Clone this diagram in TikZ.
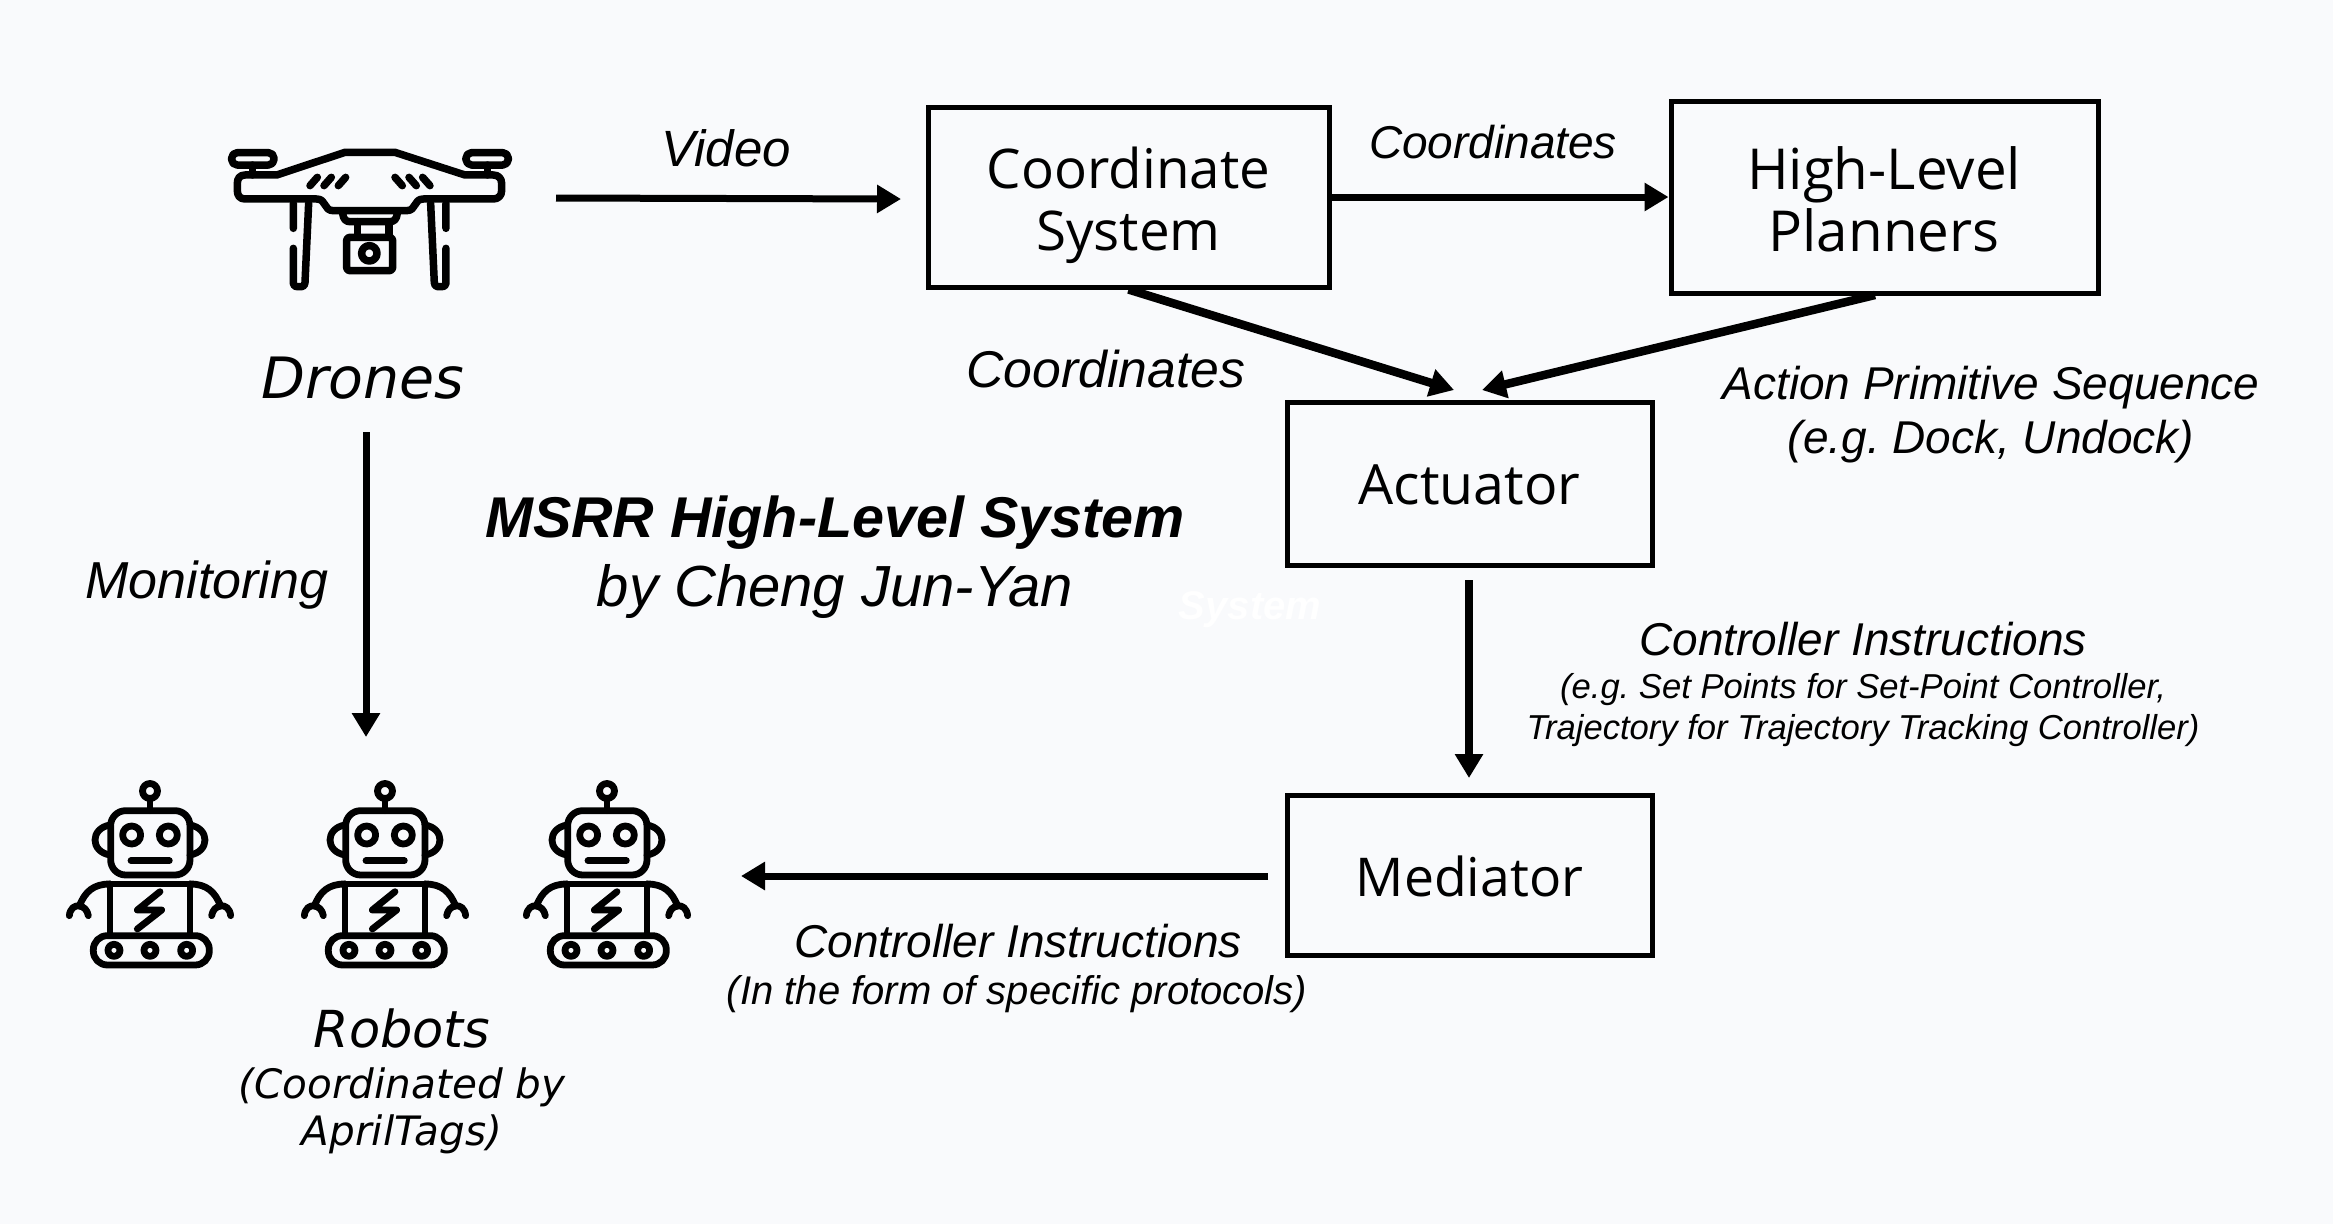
\documentclass[tikz,border=0pt]{standalone}
\usepackage{fontspec}
\setmainfont{Liberation Sans}
\newfontfamily\boxfont{Open Sans}
\newfontfamily\iconfont{DejaVu Sans}
\usetikzlibrary{arrows.meta}
\definecolor{bgc}{HTML}{F9FAFC}
\newcommand{\fs}[1]{\fontsize{#1}{#1}\selectfont}
\tikzset{
 stage/.style={draw=black,line width=5pt,minimum width=#1,inner sep=0pt,align=center,text=black},
 stagetext/.style={inner sep=0pt,align=center,font=\boxfont\fs{#1}},
 flow/.style={line width=7pt,-{Triangle[length=24pt,width=27pt]}},
 heavy/.style={line width=8.5pt},
 lab/.style={align=center,inner sep=0pt,font=\frenchspacing\itshape\fs{#1}},
 icon/.style={line width=7.5pt,line cap=round,line join=round},
 roboticon/.style={line width=6.8pt,line cap=round,line join=round},
}
\begin{document}
\begin{tikzpicture}[x=1pt,y=-1pt]
\path[use as bounding box,fill=bgc] (0,0) rectangle (2333,1224);
% boxes
\node[stage=401pt,minimum height=180pt] (cs) at (1128.5,197) {};
\node[stagetext=54.7] (cstxt) at (1128.5,205.5) {Coordinate\\[7pt]System};
\node[stage=427pt,minimum height=192pt] (hl) at (1884.5,197) {};
\node[stagetext=56.5] (hltxt) at (1884,199.5) {High-Level\\[5.5pt]Planners};
\node[stage=365pt,minimum height=163pt] (act) at (1469.5,483.5) {};
\node[stagetext=55.5] (acttxt) at (1469.5,485) {Actuator};
\node[stage=365pt,minimum height=160pt] (med) at (1469.5,875) {};
\node[stagetext=53.5] (medtxt) at (1469.5,876) {Mediator};
% free ends
\coordinate (vs) at (556,198);
\coordinate (ve) at (901,199);
\coordinate (hs) at (1875,295);
\coordinate (a1) at (1454,390);
\coordinate (a2) at (1482,390);
\coordinate (as) at (1469,580);
\coordinate (ae) at (1469,778);
\coordinate (ms) at (1268,876);
\coordinate (me) at (741,876);
\coordinate (ds) at (366,432);
\coordinate (de) at (366,737);
% connectors
\draw[flow] (vs) -- (ve);
\draw[flow] (cs.east) -- (hl.west);
\draw[flow,heavy] (cs.south) -- (a1);
\draw[flow,heavy] (hs) -- (a2);
\draw[flow,heavy] (as) -- (ae);
\draw[flow] (ms) -- (me);
\draw[flow] (ds) -- (de);
% labels
\node[lab=51] (l1) at (726,148) {Video};
\node[lab=46] (l2) at (1493,142) {Coordinates};
\node[lab=51.7] (l3) at (1106,369) {Coordinates};
\node[lab=46] (l4) at (1991,414.5) {Action Primitive Sequence\\[8pt](e.g. Dock, Undock)};
\node[lab=46] (l5) at (1863,639) {Controller Instructions};
\node[lab=34.6] (l6) at (1863,710) {(e.g. Set Points for Set-Point Controller,\\[7pt]Trajectory for Trajectory Tracking Controller)};
\node[lab=46] (l7) at (1018,941) {Controller Instructions};
\node[lab=40] (l8) at (1017,994.5) {(In the form of specific protocols)};
\node[lab=52] (l9) at (207,585) {Monitoring};
\node[inner sep=0,align=center,font=\bfseries\itshape\fs{57.5}] (t1) at (835,522.5) {MSRR High-Level System};
\node[lab=58] (t2) at (835,591.5) {by Cheng Jun-Yan};
\node[inner sep=0,font=\bfseries\itshape\fs{40},text=white] (t3) at (1250,609.5) {System};
\node[inner sep=0,font=\iconfont\itshape\fs{57}] (dl) at (363,378) {Drones};
\node[inner sep=0,font=\iconfont\itshape\fs{51}] (rl) at (402,1028) {Robots};
\node[inner sep=0,align=center,font=\iconfont\itshape\fs{40.5}] (rs) at (402,1111) {(Coordinated by\\[7pt]AprilTags)};
% drone
\begin{scope}[shift={(200,120)},x=0.3333pt,y=-0.3333pt,icon]
\draw[rounded corners=5.5pt] (95,98) rectangle (222,135);
\draw[rounded corners=5.5pt] (798,98) rectangle (925,135);
\draw (157,135)--(157,165) (862,135)--(862,165);
\draw (135,165)--(230,165)--(435,97)--(585,97)--(795,165)--(880,165)
  .. controls (895,165) and (905,175) .. (905,190)--(905,212)
  .. controls (905,227) and (895,237) .. (880,237)--(670,237)
  .. controls (640,237) and (650,272) .. (620,272)--(400,272)
  .. controls (370,272) and (380,237) .. (350,237)--(135,237)
  .. controls (120,237) and (112,227) .. (112,212)--(112,190)
  .. controls (112,175) and (120,165) .. (135,165)--cycle;
\foreach \a in {330,372,415} \draw (\a,197)--(\a+22,172);
\foreach \a in {585,627,668} \draw (\a,172)--(\a+22,197);
\draw (428,280) .. controls (430,298) and (438,305) .. (450,305)--(570,305) .. controls (582,305) and (590,298) .. (592,280);
\draw (472,305)--(472,345) (567,305)--(567,345);
\draw[rounded corners=3pt] (440,352) rectangle (578,452);
\draw (508,400) circle[radius=7.7pt];
\draw (280,250)--(280,325) (280,385)--(280,490) .. controls (280,497) and (285,500) .. (295,500)--(305,500) .. controls (312,500) and (314,495) .. (315,488)--(326,250);
\draw (738,250)--(738,325) (738,385)--(738,490) .. controls (738,497) and (733,500) .. (723,500)--(713,500) .. controls (706,500) and (704,495) .. (703,488)--(692,250);
\end{scope}
% robots
\foreach \dx in {0,235,457}{
\begin{scope}[shift={(50+\dx,770)},x=0.3333pt,y=-0.3333pt,roboticon]
\draw (300,63) circle[radius=7.5pt];
\draw (300,85)--(300,122);
\draw[rounded corners=15pt] (182,122) rectangle (420,315);
\draw (180,165) .. controls (150,170) and (135,190) .. (135,210) .. controls (135,230) and (150,250) .. (180,255);
\draw (420,165) .. controls (450,170) and (465,190) .. (465,210) .. controls (465,230) and (450,250) .. (420,255);
\draw (245,195) circle[radius=9pt] (355,195) circle[radius=9pt];
\draw (243,272)--(358,272);
\draw (180,342)--(420,342);
\draw (180,342)--(180,495) (420,342)--(420,495);
\draw (180,342) .. controls (130,342) and (105,365) .. (88,408);
\draw (420,342) .. controls (470,342) and (495,365) .. (512,408);
\draw (58,437) .. controls (60,415) and (75,405) .. (88,408) .. controls (102,410) and (112,420) .. (115,437);
\draw (542,437) .. controls (540,415) and (525,405) .. (512,408) .. controls (498,410) and (488,420) .. (485,437);
\draw (330,365)--(262,420)--(335,420)--(262,477);
\draw[rounded corners=14pt] (130,497) rectangle (478,585);
\foreach \w in {192,300,410} \draw (\w,541) circle[radius=6pt];
\end{scope}}
\end{tikzpicture}
\end{document}
